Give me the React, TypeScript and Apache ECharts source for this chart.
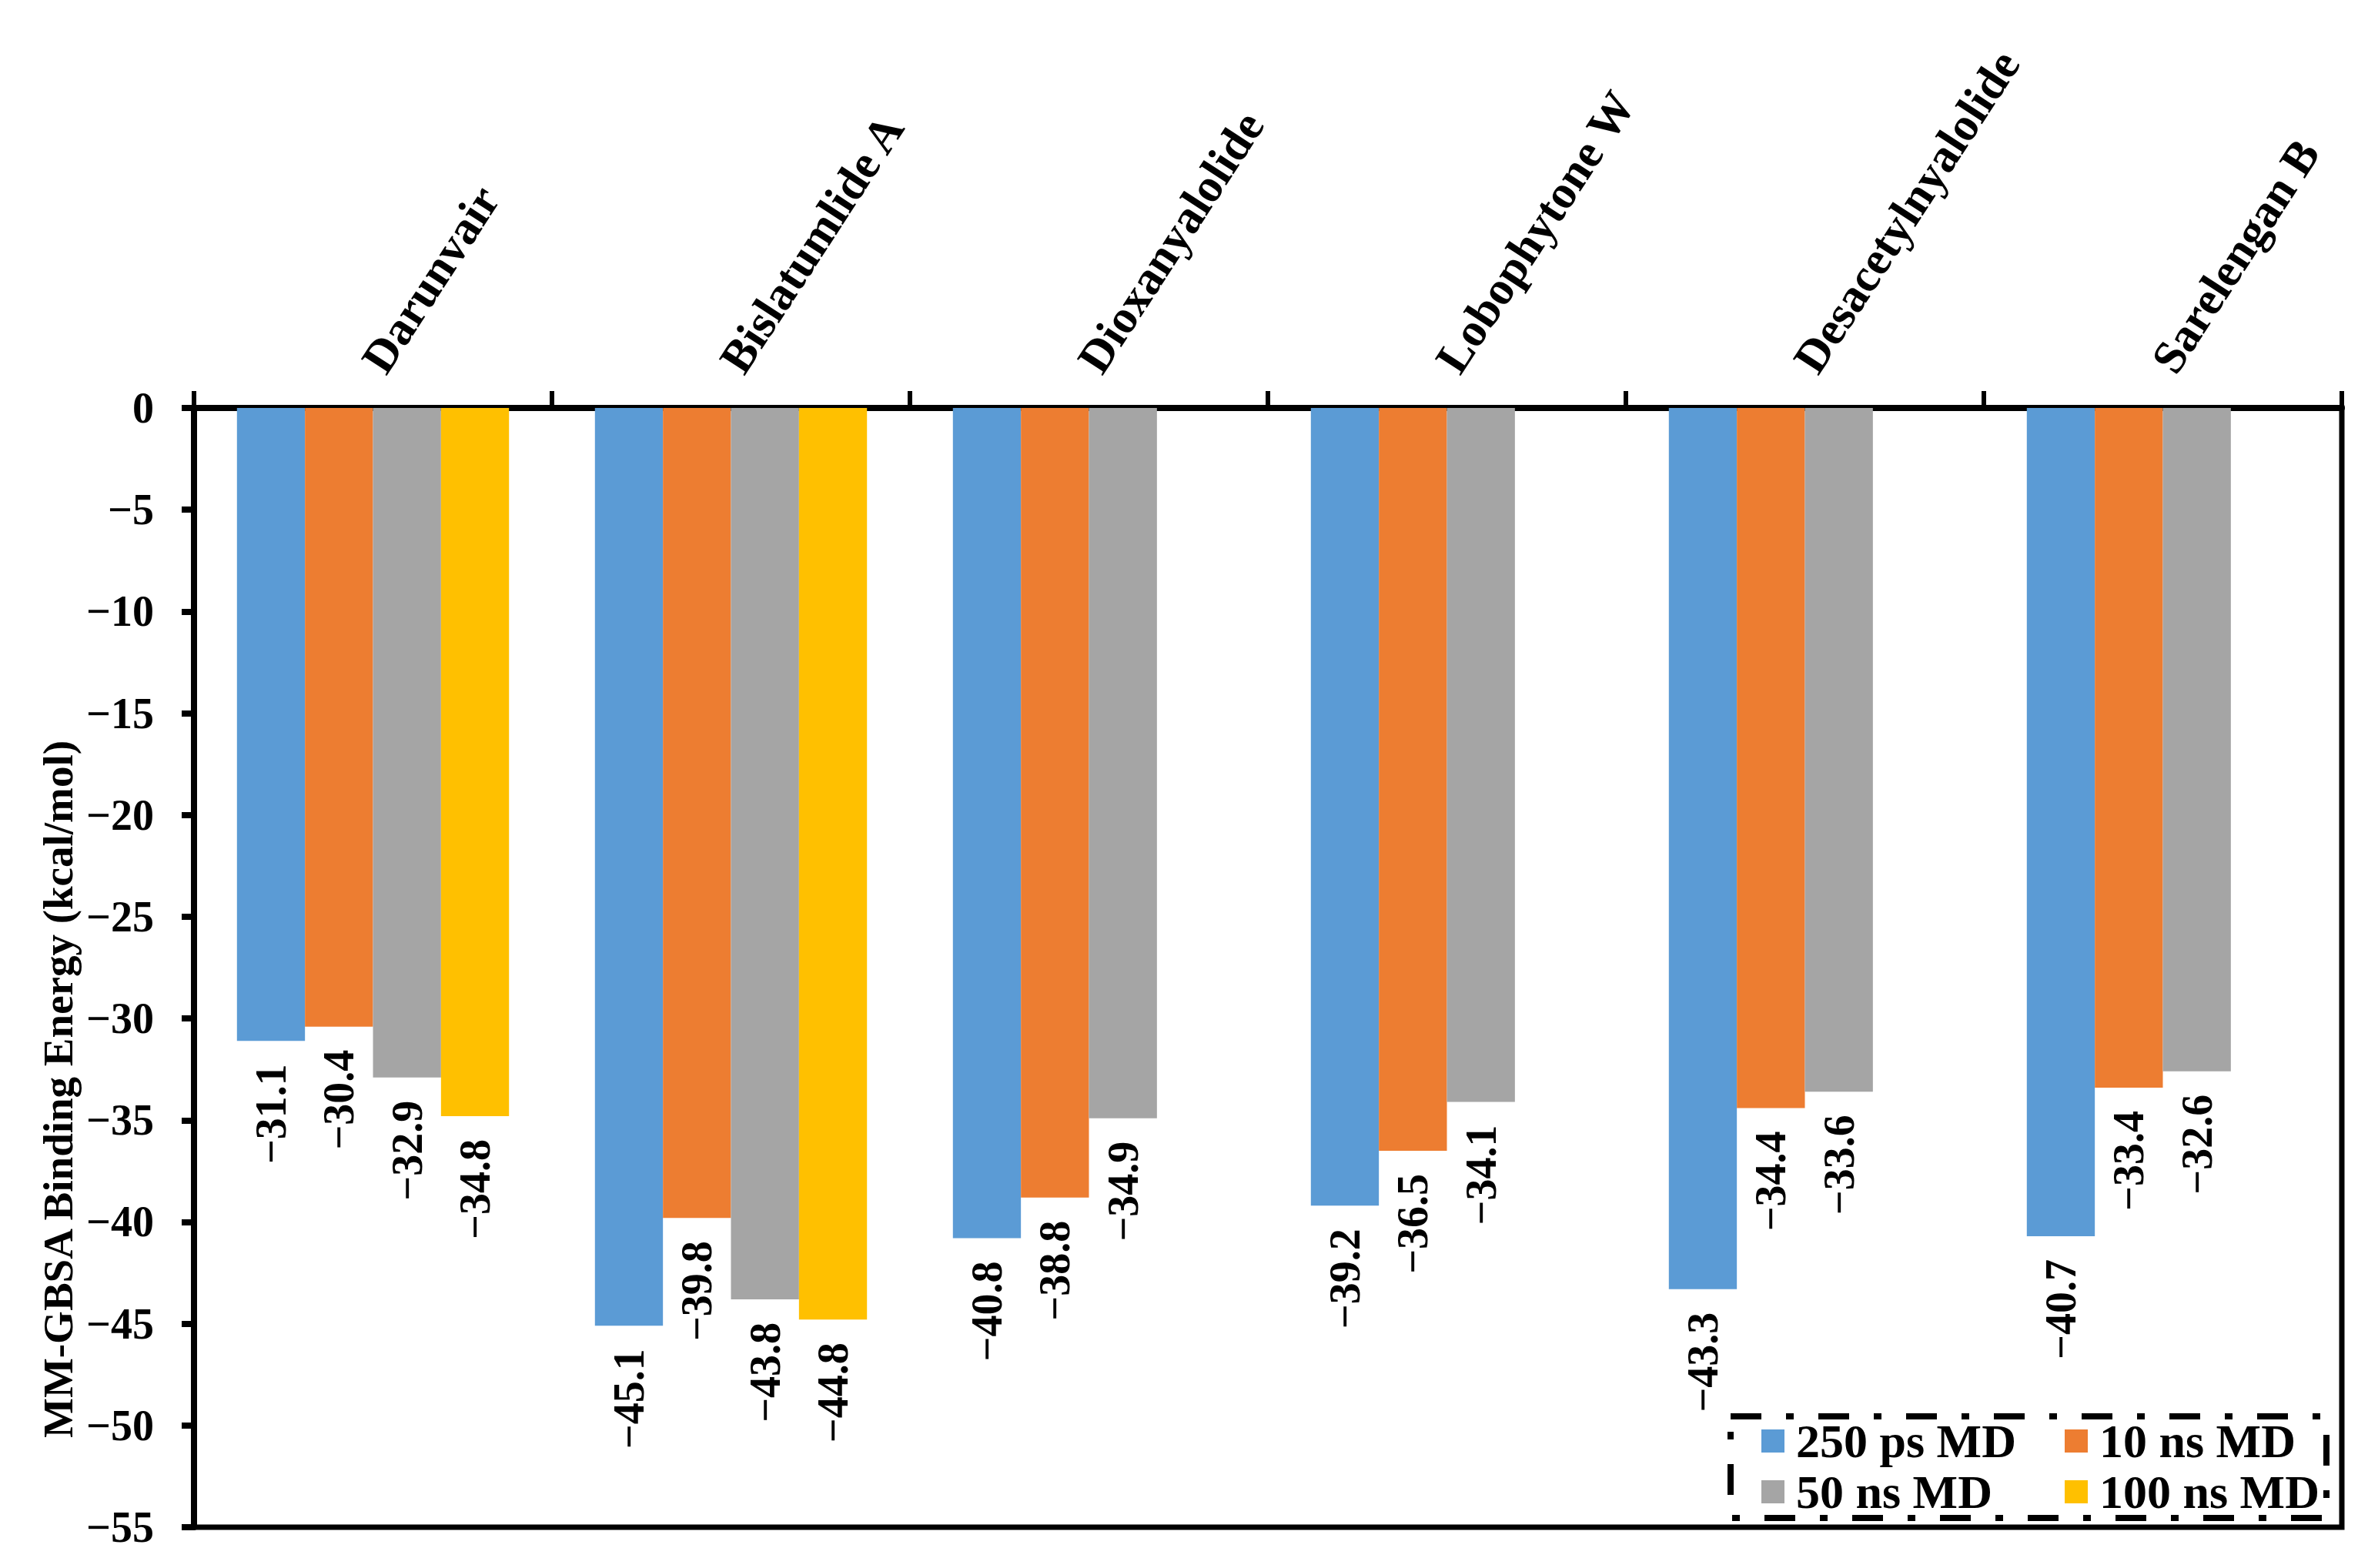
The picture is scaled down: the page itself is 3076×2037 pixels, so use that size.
import React, { useEffect, useRef } from "react";
import * as echarts from "echarts";

const categories = [
  "Darunvair",
  "Bislatumlide A",
  "Dioxanyalolide",
  "Lobophytone W",
  "Desacetylnyalolide",
  "Sarelengan B",
];
const seriesNames = ["250 ps MD", "10 ns MD", "50 ns MD", "100 ns MD"];
const ps250 = [-31.1, -45.1, -40.8, -39.2, -43.3, -40.7];
const ns10 = [-30.4, -39.8, -38.8, -36.5, -34.4, -33.4];
const ns50 = [-32.9, -43.8, -34.9, -34.1, -33.6, -32.6];
const ns100 = [-34.8, -44.8, null, null, null, null];
const colors = ["#5B9BD5", "#ED7D31", "#A5A5A5", "#FFC000"];
const yTitle = "MM-GBSA Binding Energy (kcal/mol)";

const FONT = "'Liberation Serif', 'Times New Roman', serif";
const fmt = (v: number) => v.toFixed(1).replace("-", "\u2212");

export default function App() {
  const ref = useRef<HTMLDivElement>(null);
  useEffect(() => {
    if (!ref.current) return;
    const chart = echarts.init(ref.current, null, { renderer: "svg" });
    const data = [ps250, ns10, ns50, ns100];
    const legendText = {
      fontSize: 62,
      fontWeight: "bold",
      fontFamily: FONT,
      color: "#000",
      lineHeight: 64,
      padding: [0, 0, 0, 10],
    };
    chart.setOption({
      animation: false,
      backgroundColor: "#fff",
      grid: {
        left: 252,
        top: 530,
        width: 2790,
        height: 1454,
        show: true,
        borderColor: "#000",
        borderWidth: 7,
        backgroundColor: "transparent",
      },
      xAxis: {
        type: "category",
        data: categories,
        position: "top",
        axisLine: { show: true, lineStyle: { color: "#000", width: 8 } },
        axisTick: { show: true, length: 22, lineStyle: { color: "#000", width: 6 } },
        axisLabel: {
          rotate: 57,
          margin: 52,
          interval: 0,
          fontSize: 61,
          fontWeight: "bold",
          fontFamily: FONT,
          color: "#000",
        },
      },
      yAxis: {
        type: "value",
        min: -55,
        max: 0,
        interval: 5,
        axisLine: { show: true, lineStyle: { color: "#000", width: 8 } },
        axisTick: { show: true, length: 16, lineStyle: { color: "#000", width: 8 } },
        splitLine: { show: false },
        axisLabel: {
          margin: 52,
          fontSize: 56,
          fontWeight: "bold",
          fontFamily: FONT,
          color: "#000",
          formatter: (v: number) => (v === 0 ? "0" : String(v).replace("-", "\u2212")),
        },
      },
      legend: [
        {
          data: [seriesNames[0], seriesNames[2]],
          orient: "vertical",
          left: 2288,
          top: 1840,
          padding: 0,
          itemWidth: 30,
          itemHeight: 30,
          itemGap: 2,
          icon: "rect",
          textStyle: legendText,
        },
        {
          data: [seriesNames[1], seriesNames[3]],
          orient: "vertical",
          left: 2682,
          top: 1840,
          padding: 0,
          itemWidth: 30,
          itemHeight: 30,
          itemGap: 2,
          icon: "rect",
          textStyle: legendText,
        },
      ],
      graphic: [
        {
          type: "rect",
          shape: { x: 2248, y: 1840, width: 774, height: 132 },
          style: {
            fill: "none",
            stroke: "#000",
            lineWidth: 8,
            lineDash: [40, 32, 10, 32],
          },
          z: 100,
        },
        {
          type: "text",
          x: 75,
          y: 1415,
          rotation: Math.PI / 2,
          style: {
            text: yTitle,
            fontSize: 55,
            fontWeight: "bold",
            fontFamily: FONT,
            fill: "#000",
            align: "center",
            verticalAlign: "middle",
          },
        },
      ],
      series: seriesNames.map((name, i) => ({
        name,
        type: "bar",
        data: data[i],
        barGap: "0%",
        barCategoryGap: "24%",
        itemStyle: { color: colors[i] },
        label: {
          show: true,
          position: "bottom",
          distance: 30,
          rotate: 90,
          align: "right",
          verticalAlign: "middle",
          fontSize: 56,
          fontWeight: "bold",
          fontFamily: FONT,
          color: "#000",
          formatter: (p: any) => (p.value == null ? "" : fmt(p.value)),
        },
      })),
    });
    return () => chart.dispose();
  }, []);
  return (
    <div
      ref={ref}
      style={{ position: "absolute", left: 0, top: 0, width: 3076, height: 2037 }}
    />
  );
}
